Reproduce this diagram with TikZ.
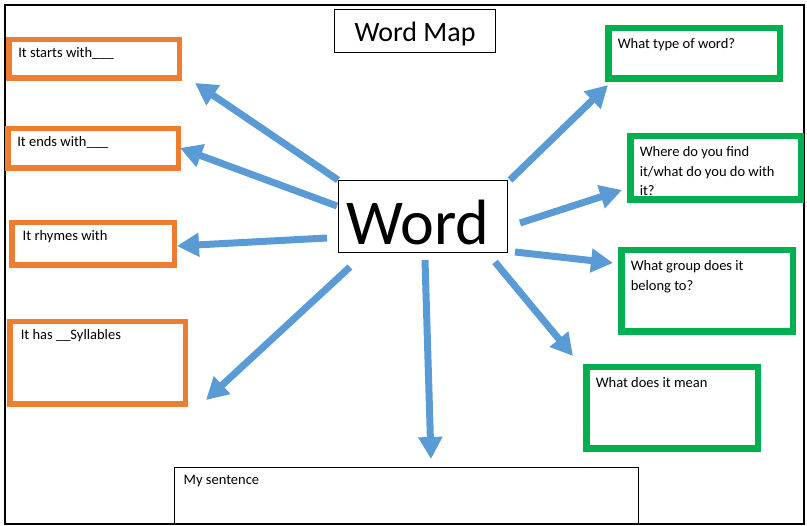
\documentclass[tikz,border=0pt]{standalone}
\usepackage{fontspec}
\setmainfont{Carlito}
\usetikzlibrary{arrows.meta}
\definecolor{mapblue}{HTML}{5B9BD5}
\definecolor{maporange}{HTML}{ED7D31}
\definecolor{mapgreen}{HTML}{00B050}
\newcommand{\boxtext}[3]{\parbox[c][#2][t]{#1}{#3}}

\begin{document}
\begin{tikzpicture} [x=1pt,y=-1pt,font=\fontsize{14.5}{19.5}\selectfont,
	mapbox/.style={anchor=north west,outer sep=0pt,inner xsep=9.5pt,inner ysep=8pt},
	orangebox/.style={mapbox,draw=maporange,line width=5.5pt},
	greenbox/.style={mapbox,draw=mapgreen,line width=6.5pt,inner ysep=10.5pt},
	thinbox/.style={draw=black,line width=1.3pt,outer sep=0pt},
	spoke/.style={draw=mapblue,line width=7pt,-{Triangle[length=22pt,width=23pt]}}]
		\useasboundingbox (0,0) rectangle (807,526);
		\draw [line width=1.6pt] (4.8,4.8) rectangle (804.2,524.2);
		% title and centre
		\node [thinbox,minimum width=160.7pt,minimum height=42.7pt,inner sep=0pt,font=\fontsize{28}{34}\selectfont,text height=22pt,text depth=0pt] (title) at (415,31) {Word Map};
		\node [thinbox,minimum width=168.7pt,minimum height=71.7pt,inner sep=0pt,font=\fontsize{64}{76}\selectfont,text height=57pt,text depth=0pt] (word) at (423,216.5) {Word\hspace*{10pt}};
		% left boxes
		\node [orangebox] (starts) at (8.75,39.75) {\boxtext{151.5pt}{22.5pt}{It starts with\_\_\_}};
		\node [orangebox] (ends) at (7.75,128.75) {\boxtext{151.5pt}{23.5pt}{It ends with\_\_\_}};
		\node [orangebox,inner xsep=11pt] (rhymes) at (11.75,222.75) {\boxtext{140.5pt}{26.5pt}{It rhymes with}};
		\node [orangebox,inner xsep=11pt] (syllables) at (9.75,321.75) {\boxtext{153.5pt}{66.5pt}{It has \_\_Syllables}};
		% right boxes
		\node [greenbox] (type) at (608.25,28.25) {\boxtext{152.5pt}{29.5pt}{What type of word?}};
		\node [greenbox] (where) at (630.25,136.25) {\boxtext{151.5pt}{42.5pt}{Where do you find\\it/what do you do with\\it?}};
		\node [greenbox] (group) at (621.25,250.25) {\boxtext{152.5pt}{60.5pt}{What group does it\\belong to?}};
		\node [greenbox] (mean) at (586.25,367.25) {\boxtext{152.5pt}{60.5pt}{What does it mean}};
		% bottom box
		\node [thinbox,mapbox,inner xsep=9pt] (sentence) at (174.65,467.65) {\boxtext{445.7pt}{40.7pt}{My sentence}};
		% spokes
		\coordinate (starts-from) at (338,180);
		\coordinate (starts-to) at (195,83);
		\coordinate (ends-from) at (337,206);
		\coordinate (ends-to) at (180,148);
		\coordinate (rhymes-from) at (327,238);
		\coordinate (rhymes-to) at (177,246);
		\coordinate (syllables-from) at (350,267);
		\coordinate (syllables-to) at (206,400);
		\coordinate (sentence-from) at (425,260);
		\coordinate (sentence-to) at (431,459);
		\coordinate (mean-from) at (495,262);
		\coordinate (mean-to) at (573,356);
		\coordinate (group-from) at (515,252);
		\coordinate (group-to) at (613,263);
		\coordinate (where-from) at (520,223);
		\coordinate (where-to) at (622,190);
		\coordinate (type-from) at (510,180);
		\coordinate (type-to) at (608,85);
		\draw [spoke] (starts-from) -- (starts-to);
		\draw [spoke] (ends-from) -- (ends-to);
		\draw [spoke] (rhymes-from) -- (rhymes-to);
		\draw [spoke] (syllables-from) -- (syllables-to);
		\draw [spoke] (sentence-from) -- (sentence-to);
		\draw [spoke] (mean-from) -- (mean-to);
		\draw [spoke] (group-from) -- (group-to);
		\draw [spoke] (where-from) -- (where-to);
		\draw [spoke] (type-from) -- (type-to);
	\end{tikzpicture}
\end{document}
